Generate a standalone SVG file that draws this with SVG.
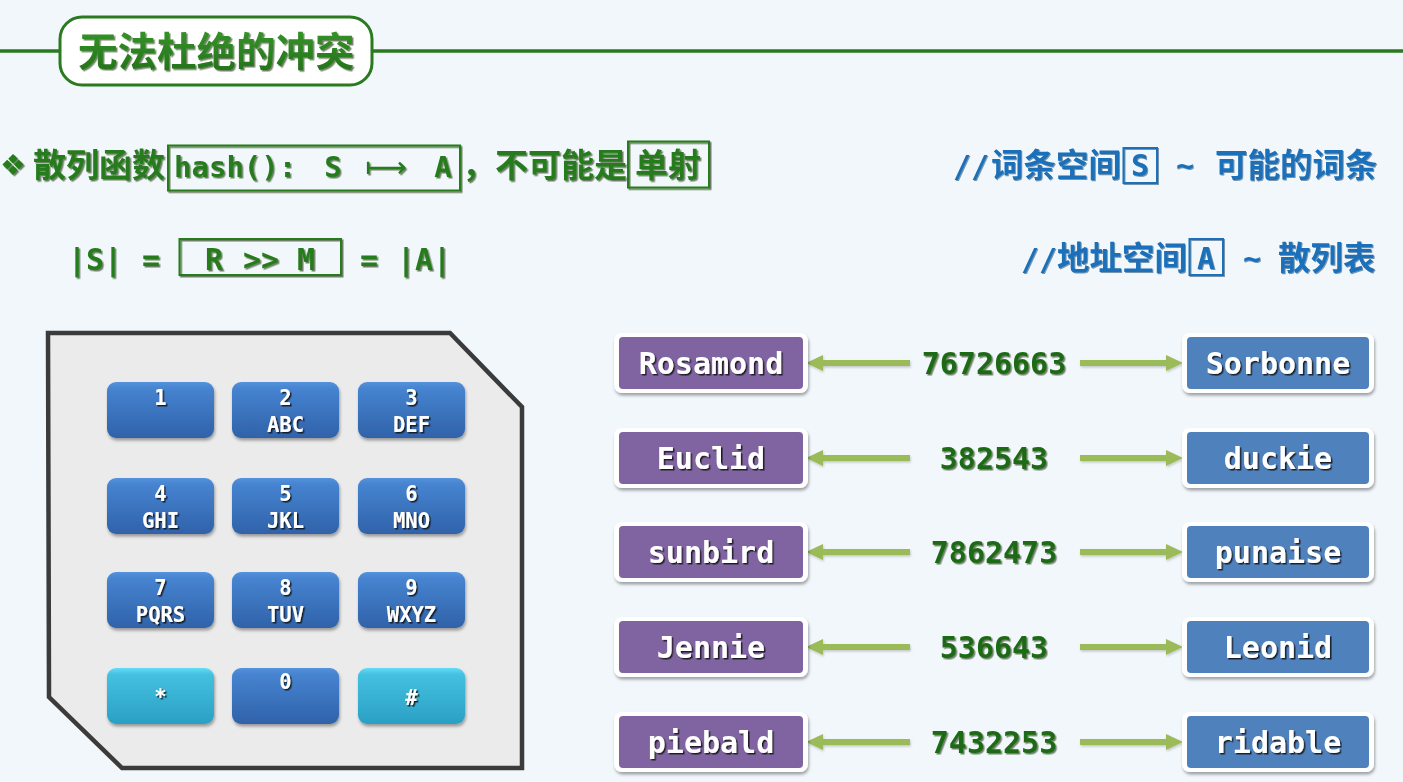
<svg xmlns="http://www.w3.org/2000/svg" width="1403" height="782" viewBox="0 0 1403 782">
<defs>
<style>
.cjk{font-family:"Noto Sans CJK SC","Noto Sans",sans-serif;font-weight:700}
.mono{font-family:"DejaVu Sans Mono","Liberation Mono",monospace;font-weight:700}
.green{fill:#267c1c}
.blue{fill:#1a70b9}
.key text{fill:#ffffff;font-size:20.5px;text-anchor:middle}
.kb{stroke:none;rx:9;ry:9}
.node text{fill:#ffffff;font-size:30px;text-anchor:middle}
.num{fill:#1f6b14;font-size:30px;text-anchor:middle}
.arrow{stroke:#9bbb59;stroke-width:6;fill:none}
</style>
<linearGradient id="gBlue" x1="0" y1="0" x2="0" y2="1">
<stop offset="0" stop-color="#5592dc"/>
<stop offset="0.12" stop-color="#4683d0"/>
<stop offset="1" stop-color="#2f62a9"/>
</linearGradient>
<linearGradient id="gCyan" x1="0" y1="0" x2="0" y2="1">
<stop offset="0" stop-color="#62dcf6"/>
<stop offset="0.12" stop-color="#44c0e0"/>
<stop offset="1" stop-color="#2aa0c4"/>
</linearGradient>
<linearGradient id="gTitle" x1="0" y1="0" x2="0" y2="1">
<stop offset="0" stop-color="#3a9a2c"/>
<stop offset="1" stop-color="#226f18"/>
</linearGradient>
<filter id="txtSh" x="-10%" y="-20%" width="120%" height="150%">
<feDropShadow dx="1.5" dy="1.5" stdDeviation="0.4" flood-color="#0b2a06" flood-opacity="0.6"/>
</filter>
<filter id="txtShB" x="-10%" y="-20%" width="120%" height="150%">
<feDropShadow dx="1" dy="1" stdDeviation="0.4" flood-color="#06305a" flood-opacity="0.5"/>
</filter>
<filter id="whiteSh" x="-10%" y="-20%" width="120%" height="150%">
<feDropShadow dx="1.5" dy="1.5" stdDeviation="0.3" flood-color="#111111" flood-opacity="0.85"/>
</filter>
<filter id="boxSh" x="-10%" y="-20%" width="125%" height="150%">
<feDropShadow dx="1" dy="2.5" stdDeviation="1.8" flood-color="#000000" flood-opacity="0.35"/>
</filter>
<filter id="arSh" x="-10%" y="-50%" width="120%" height="200%">
<feDropShadow dx="0.8" dy="1.5" stdDeviation="1" flood-color="#000000" flood-opacity="0.2"/>
</filter>
<marker id="ah" viewBox="0 -9 18 18" markerWidth="18" markerHeight="18" refX="3" refY="0" orient="auto" markerUnits="userSpaceOnUse">
<path d="M0,-8 L17,0 L0,8 z" fill="#9bbb59"/>
</marker>
</defs>

<rect x="0" y="0" width="1403" height="782" fill="#f2f7fc"/>

<!-- title -->
<g id="title">
<line x1="0" y1="51" x2="1403" y2="51" stroke="#2a7a1f" stroke-width="3.5"/>
<rect x="60" y="17" width="312" height="68" rx="22" ry="22" fill="#ffffff" stroke="#2a7a1f" stroke-width="3"/>
<text x="78" y="66" class="cjk" font-size="39.5" fill="url(#gTitle)" filter="url(#txtSh)">无法杜绝的冲突</text>
</g>

<!-- line 2 -->
<g id="line-hash" filter="url(#txtSh)">
<text x="0" y="175" font-family="DejaVu Sans,sans-serif" font-size="29" class="green">❖</text>
<text x="33" y="177" class="cjk green" font-size="33">散列函数</text>
<rect x="168" y="145.5" width="292" height="45" fill="none" stroke="#267c1c" stroke-width="2"/>
<text x="174" y="177" class="mono green" font-size="29">hash():</text>
<text x="333" y="177" class="mono green" font-size="29" text-anchor="middle">S</text>
<text x="386" y="177" font-family="DejaVu Sans,sans-serif" font-size="29" class="green" text-anchor="middle">⟼</text>
<text x="443" y="177" class="mono green" font-size="29" text-anchor="middle">A</text>
<text x="462" y="177" class="cjk green" font-size="33">，不可能是</text>
<rect x="628" y="141.5" width="81" height="46" fill="none" stroke="#267c1c" stroke-width="2"/>
<text x="635" y="177" class="cjk green" font-size="33">单射</text>
</g>

<!-- line 3 -->
<g id="line-size" filter="url(#txtSh)">
<text x="95" y="270" class="mono green" font-size="30" text-anchor="middle">|S|</text>
<text x="151" y="270" class="mono green" font-size="30" text-anchor="middle">=</text>
<rect x="179.5" y="239" width="161.5" height="36" fill="none" stroke="#267c1c" stroke-width="2"/>
<text x="214" y="270" class="mono green" font-size="30" text-anchor="middle">R</text>
<text x="261" y="270" class="mono green" font-size="30" text-anchor="middle">&gt;&gt;</text>
<text x="306" y="270" class="mono green" font-size="30" text-anchor="middle">M</text>
<text x="369" y="270" class="mono green" font-size="30" text-anchor="middle">=</text>
<text x="424" y="270" class="mono green" font-size="30" text-anchor="middle">|A|</text>
</g>

<!-- right comments -->
<g id="comment-S" filter="url(#txtShB)">
<text x="953" y="177" class="mono blue" font-size="30">//</text>
<text x="991" y="177" class="cjk blue" font-size="32.5">词条空间</text>
<rect x="1123.5" y="148" width="33.5" height="35" fill="none" stroke="#1a70b9" stroke-width="2"/>
<text x="1140" y="176" class="mono blue" font-size="30" text-anchor="middle">S</text>
<text x="1185" y="176" class="mono blue" font-size="30" text-anchor="middle">~</text>
<text x="1215" y="177" class="cjk blue" font-size="32.5">可能的词条</text>
</g>
<g id="comment-A" filter="url(#txtShB)">
<text x="1021" y="270" class="mono blue" font-size="30">//</text>
<text x="1057" y="270" class="cjk blue" font-size="32.5">地址空间</text>
<rect x="1189.5" y="239" width="33.5" height="36" fill="none" stroke="#1a70b9" stroke-width="2"/>
<text x="1206" y="269" class="mono blue" font-size="30" text-anchor="middle">A</text>
<text x="1252" y="269" class="mono blue" font-size="30" text-anchor="middle">~</text>
<text x="1278" y="270" class="cjk blue" font-size="32.5">散列表</text>
</g>

<!-- keypad -->
<g id="keypad">
<polygon points="48,333 450,333 522,407 522,768 122,768 49,697" fill="#ebebeb" stroke="#3b3b3b" stroke-width="4.5" stroke-linejoin="miter"/>
</g>
<g class="mono">
<g id="key-1" class="key"><rect class="kb" x="107" y="382" width="107" height="56" fill="url(#gBlue)" filter="url(#boxSh)"/><text x="160.5" y="405" filter="url(#whiteSh)">1</text></g>
<g id="key-2" class="key"><rect class="kb" x="232" y="382" width="107" height="56" fill="url(#gBlue)" filter="url(#boxSh)"/><text x="285.5" y="405" filter="url(#whiteSh)">2</text><text x="285.5" y="432" filter="url(#whiteSh)">ABC</text></g>
<g id="key-3" class="key"><rect class="kb" x="358" y="382" width="107" height="56" fill="url(#gBlue)" filter="url(#boxSh)"/><text x="411.5" y="405" filter="url(#whiteSh)">3</text><text x="411.5" y="432" filter="url(#whiteSh)">DEF</text></g>
<g id="key-4" class="key"><rect class="kb" x="107" y="478" width="107" height="56" fill="url(#gBlue)" filter="url(#boxSh)"/><text x="160.5" y="501" filter="url(#whiteSh)">4</text><text x="160.5" y="528" filter="url(#whiteSh)">GHI</text></g>
<g id="key-5" class="key"><rect class="kb" x="232" y="478" width="107" height="56" fill="url(#gBlue)" filter="url(#boxSh)"/><text x="285.5" y="501" filter="url(#whiteSh)">5</text><text x="285.5" y="528" filter="url(#whiteSh)">JKL</text></g>
<g id="key-6" class="key"><rect class="kb" x="358" y="478" width="107" height="56" fill="url(#gBlue)" filter="url(#boxSh)"/><text x="411.5" y="501" filter="url(#whiteSh)">6</text><text x="411.5" y="528" filter="url(#whiteSh)">MNO</text></g>
<g id="key-7" class="key"><rect class="kb" x="107" y="572" width="107" height="56" fill="url(#gBlue)" filter="url(#boxSh)"/><text x="160.5" y="595" filter="url(#whiteSh)">7</text><text x="160.5" y="622" filter="url(#whiteSh)">PQRS</text></g>
<g id="key-8" class="key"><rect class="kb" x="232" y="572" width="107" height="56" fill="url(#gBlue)" filter="url(#boxSh)"/><text x="285.5" y="595" filter="url(#whiteSh)">8</text><text x="285.5" y="622" filter="url(#whiteSh)">TUV</text></g>
<g id="key-9" class="key"><rect class="kb" x="358" y="572" width="107" height="56" fill="url(#gBlue)" filter="url(#boxSh)"/><text x="411.5" y="595" filter="url(#whiteSh)">9</text><text x="411.5" y="622" filter="url(#whiteSh)">WXYZ</text></g>
<g id="key-star" class="key"><rect class="kb" x="107" y="668" width="107" height="56" fill="url(#gCyan)" filter="url(#boxSh)"/><text x="160.5" y="704" filter="url(#whiteSh)">*</text></g>
<g id="key-0" class="key"><rect class="kb" x="232" y="668" width="107" height="56" fill="url(#gBlue)" filter="url(#boxSh)"/><text x="285.5" y="689" filter="url(#whiteSh)">0</text></g>
<g id="key-hash" class="key"><rect class="kb" x="358" y="668" width="107" height="56" fill="url(#gCyan)" filter="url(#boxSh)"/><text x="411.5" y="705" filter="url(#whiteSh)">#</text></g>
</g>

<!-- connectors -->
<g id="connectors" filter="url(#arSh)">
<line class="arrow" x1="910" y1="363" x2="820" y2="363" marker-end="url(#ah)"/>
<line class="arrow" x1="1080" y1="363" x2="1169" y2="363" marker-end="url(#ah)"/>
<line class="arrow" x1="910" y1="458" x2="820" y2="458" marker-end="url(#ah)"/>
<line class="arrow" x1="1080" y1="458" x2="1169" y2="458" marker-end="url(#ah)"/>
<line class="arrow" x1="910" y1="552" x2="820" y2="552" marker-end="url(#ah)"/>
<line class="arrow" x1="1080" y1="552" x2="1169" y2="552" marker-end="url(#ah)"/>
<line class="arrow" x1="910" y1="647" x2="820" y2="647" marker-end="url(#ah)"/>
<line class="arrow" x1="1080" y1="647" x2="1169" y2="647" marker-end="url(#ah)"/>
<line class="arrow" x1="910" y1="742" x2="820" y2="742" marker-end="url(#ah)"/>
<line class="arrow" x1="1080" y1="742" x2="1169" y2="742" marker-end="url(#ah)"/>
</g>

<!-- hash values -->
<g class="mono" filter="url(#txtSh)">
<text id="h1" class="num" x="994" y="374">76726663</text>
<text id="h2" class="num" x="994" y="469">382543</text>
<text id="h3" class="num" x="994" y="563">7862473</text>
<text id="h4" class="num" x="994" y="658">536643</text>
<text id="h5" class="num" x="994" y="753">7432253</text>
</g>

<!-- word nodes -->
<g class="mono">
<g id="n-rosamond" class="node"><rect x="614" y="333" width="194" height="60" rx="8" fill="#ffffff" filter="url(#boxSh)"/><rect x="619" y="337" width="184" height="52" rx="4" fill="#8064a2"/><text x="711" y="374" filter="url(#whiteSh)">Rosamond</text></g>
<g id="n-sorbonne" class="node"><rect x="1182" y="333" width="192" height="60" rx="8" fill="#ffffff" filter="url(#boxSh)"/><rect x="1187" y="337" width="182" height="52" rx="4" fill="#4f81bd"/><text x="1278" y="374" filter="url(#whiteSh)">Sorbonne</text></g>
<g id="n-euclid" class="node"><rect x="614" y="428" width="194" height="60" rx="8" fill="#ffffff" filter="url(#boxSh)"/><rect x="619" y="432" width="184" height="52" rx="4" fill="#8064a2"/><text x="711" y="469" filter="url(#whiteSh)">Euclid</text></g>
<g id="n-duckie" class="node"><rect x="1182" y="428" width="192" height="60" rx="8" fill="#ffffff" filter="url(#boxSh)"/><rect x="1187" y="432" width="182" height="52" rx="4" fill="#4f81bd"/><text x="1278" y="469" filter="url(#whiteSh)">duckie</text></g>
<g id="n-sunbird" class="node"><rect x="614" y="522" width="194" height="60" rx="8" fill="#ffffff" filter="url(#boxSh)"/><rect x="619" y="526" width="184" height="52" rx="4" fill="#8064a2"/><text x="711" y="563" filter="url(#whiteSh)">sunbird</text></g>
<g id="n-punaise" class="node"><rect x="1182" y="522" width="192" height="60" rx="8" fill="#ffffff" filter="url(#boxSh)"/><rect x="1187" y="526" width="182" height="52" rx="4" fill="#4f81bd"/><text x="1278" y="563" filter="url(#whiteSh)">punaise</text></g>
<g id="n-jennie" class="node"><rect x="614" y="617" width="194" height="60" rx="8" fill="#ffffff" filter="url(#boxSh)"/><rect x="619" y="621" width="184" height="52" rx="4" fill="#8064a2"/><text x="711" y="658" filter="url(#whiteSh)">Jennie</text></g>
<g id="n-leonid" class="node"><rect x="1182" y="617" width="192" height="60" rx="8" fill="#ffffff" filter="url(#boxSh)"/><rect x="1187" y="621" width="182" height="52" rx="4" fill="#4f81bd"/><text x="1278" y="658" filter="url(#whiteSh)">Leonid</text></g>
<g id="n-piebald" class="node"><rect x="614" y="712" width="194" height="60" rx="8" fill="#ffffff" filter="url(#boxSh)"/><rect x="619" y="716" width="184" height="52" rx="4" fill="#8064a2"/><text x="711" y="753" filter="url(#whiteSh)">piebald</text></g>
<g id="n-ridable" class="node"><rect x="1182" y="712" width="192" height="60" rx="8" fill="#ffffff" filter="url(#boxSh)"/><rect x="1187" y="716" width="182" height="52" rx="4" fill="#4f81bd"/><text x="1278" y="753" filter="url(#whiteSh)">ridable</text></g>
</g>
</svg>
